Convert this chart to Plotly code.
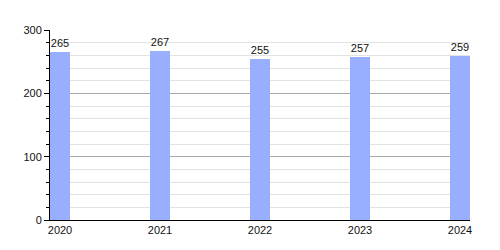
import plotly.graph_objects as go

years = [2020, 2021, 2022, 2023, 2024]
values = [265, 267, 255, 257, 259]
labels = ["2020", "2021", "2022", "2023", "2024"]

fig = go.Figure(go.Bar(
    x=years, y=values, width=0.2,
    marker=dict(color="#98aefe", line=dict(width=0)),
    text=[str(v) for v in values], textposition="outside",
    textfont=dict(size=11, color="#111", family="Liberation Sans, Arial"),
    cliponaxis=False,
))

fig.update_layout(
    width=500, height=250,
    margin=dict(l=50, r=30, t=30, b=30),
    plot_bgcolor="white", paper_bgcolor="white",
    font=dict(family="Liberation Sans, Arial", size=11, color="#111"),
    showlegend=False,
    bargap=0,
)
fig.update_xaxes(
    range=[2019.9, 2024.1], tickmode="array", tickvals=years, ticktext=labels,
    showgrid=False, showline=True, linecolor="black", linewidth=1,
    ticks="", ticklen=0, zeroline=False,
)
fig.update_yaxes(
    range=[0, 300], tickvals=[0, 100, 200, 300],
    showgrid=True, gridcolor="#aaaaaa", gridwidth=1,
    showline=True, linecolor="black", linewidth=1,
    ticks="outside", ticklen=5, tickcolor="black",
    minor=dict(dtick=20, showgrid=True, gridcolor="#e3e3e3", ticks="outside", ticklen=3, tickcolor="black"),
    zeroline=False,
)

fig.write_html("out.html")
